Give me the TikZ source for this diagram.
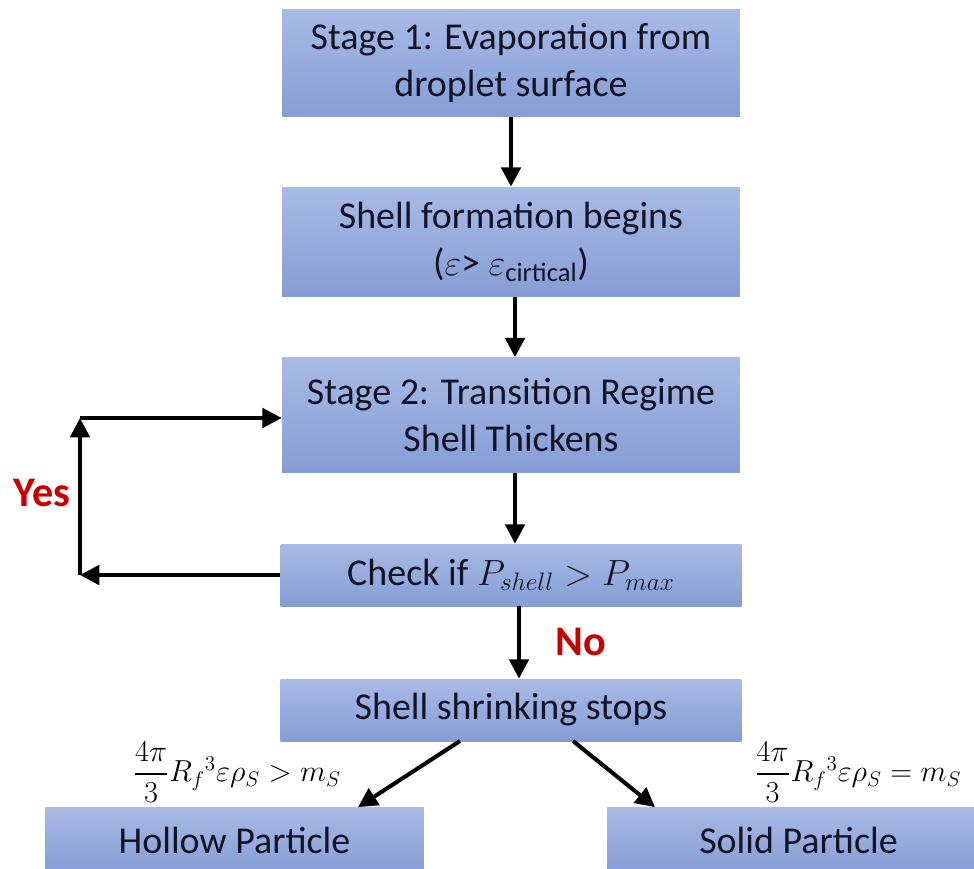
\documentclass[tikz,border=0pt]{standalone}
\usepackage{fontspec}
\setmainfont{Carlito}
\usepackage{amsmath,amssymb}
\usepackage{tikz}
\usetikzlibrary{arrows.meta}
\definecolor{boxtop}{RGB}{168,186,230}
\definecolor{boxbot}{RGB}{134,157,213}
\definecolor{boxtext}{RGB}{18,20,38}
\definecolor{yesno}{RGB}{200,0,0}
\tikzset{
	stagebox/.style={rectangle, top color=boxtop, bottom color=boxbot, draw=none, text=boxtext, align=center, font=\fontsize{21.6}{27}\selectfont, inner sep=0pt},
	flowarrow/.style={line width=2.3pt, -{Triangle[length=11pt,width=11pt]}},
	answer/.style={text=yesno, font=\bfseries\fontsize{24}{28}\selectfont, inner sep=0pt},
	cond/.style={font=\fontsize{17}{20}\selectfont, inner sep=0pt}
}

\begin{document}
\begin{tikzpicture}[x=0.02cm,y=-0.02cm]
			\useasboundingbox (0,0) rectangle (974,869);
			\node[stagebox, minimum width=9.16cm, minimum height=2.16cm] (s1) at (511,63) {Stage 1: Evaporation from\\droplet surface};
			\node[stagebox, minimum width=9.16cm, minimum height=2.2cm] (s2) at (511,242) {Shell formation begins\\($\varepsilon$> $\varepsilon_{\text{cirtical}}$)};
			\node[stagebox, minimum width=9.16cm, minimum height=2.3cm] (s3) at (511,415) {Stage 2: Transition Regime\\Shell Thickens};
			\node[stagebox, minimum width=9.22cm, minimum height=1.24cm] (chk) at (511,575) {Check if $P_{shell} > P_{max}$};
			\node[stagebox, minimum width=9.22cm, minimum height=1.24cm] (stop) at (511,710) {Shell shrinking stops};
			\node[stagebox, minimum width=7.58cm, minimum height=1.3cm] (hollow) at (234.5,840) {Hollow Particle};
			\node[stagebox, minimum width=7.66cm, minimum height=1.3cm] (solid) at (798.5,840) {Solid Particle};
			
			% straight flow
			\draw[flowarrow] (s1.south) -- (s2.north);
			\draw[flowarrow] ([xshift=0.08cm]s2.south) -- ([xshift=0.08cm]s3.north);
			\draw[flowarrow] ([xshift=0.08cm]s3.south) -- ([xshift=0.08cm]chk.north);
			\draw[flowarrow] ([xshift=0.16cm]chk.south) -- ([xshift=0.16cm]stop.north);
			\node[answer] (no) at (581,642) {No};
			
			% loop back
			\coordinate (lb) at (80,575);
			\coordinate (lt) at (80,418);
			\draw[flowarrow] (chk.west) -- (lb);
			\draw[flowarrow] (lb) -- (lt);
			\draw[flowarrow] (lt) -- (s3.west |- lt);
			\node[answer] (yes) at (42,493) {Yes};
			
			% outcomes
			\draw[flowarrow] (460,741) -- (hollow.north -| 358,0);
			\draw[flowarrow] (573,741) -- (solid.north -| 655,0);
			\node[cond] (hc) at (237,772) {$\dfrac{4\pi}{3}R_f{}^3\varepsilon\rho_S > m_S$};
			\node[cond] (sc) at (858,772) {$\dfrac{4\pi}{3}R_f{}^3\varepsilon\rho_S = m_S$};
		\end{tikzpicture}
\end{document}
